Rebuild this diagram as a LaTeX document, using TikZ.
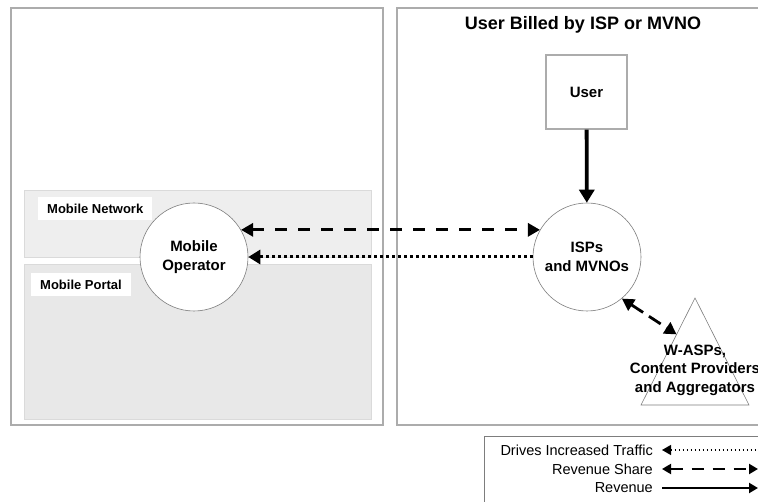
\documentclass[tikz,border=0pt]{standalone}
\usepackage{fontspec}
\setmainfont{Liberation Sans}
\usepackage{tikz}
\usetikzlibrary{arrows.meta,positioning,calc}
\definecolor{framegray}{RGB}{172,172,172}
\definecolor{edgegray}{RGB}{125,125,125}
\definecolor{netgray}{RGB}{238,238,238}
\definecolor{portalgray}{RGB}{232,232,232}
\definecolor{bandedge}{RGB}{218,218,218}

\begin{document}
\begin{tikzpicture}[
    x=1pt, y=-1pt,
    font=\fontsize{15}{18.5}\selectfont\bfseries,
    panel/.style={draw=framegray, line width=1.8pt},
    band/.style={draw=bandedge, line width=0.8pt},
    tag/.style={
        rectangle, fill=white, anchor=north west,
        font=\fontsize{13}{15}\selectfont\bfseries,
        minimum height=23pt, inner xsep=9pt, inner ysep=0pt
    },
    actor/.style={
        circle, draw=edgegray, line width=0.6pt, fill=white,
        minimum size=108pt, inner sep=0pt, align=center
    },
    userbox/.style={
        rectangle, draw=framegray, line width=1.2pt, fill=white,
        minimum width=81pt, minimum height=74pt
    },
    revenue/.style={-{Triangle[length=13pt,width=15pt]}, line width=3.8pt},
    share/.style={{Triangle[length=12pt,width=13pt]}-{Triangle[length=12pt,width=13pt]},
        line width=2.8pt, dash pattern=on 12pt off 11pt},
    traffic/.style={-{Triangle[length=12pt,width=14pt]}, line width=3pt,
        dash pattern=on 3pt off 3pt},
    legtext/.style={anchor=east, inner sep=0pt, font=\fontsize{14.5}{16}\selectfont}
]
\useasboundingbox (0,0) rectangle (758,502);

% two panels and the operator bands
\draw[panel] (11,8) rectangle (383,425);
\draw[panel] (397,8) rectangle (790,425);
\draw[band, fill=netgray]    (24,190) rectangle (371,257);
\draw[band, fill=portalgray] (24,264) rectangle (371,419);
\node[tag] (nettag)    at (38,197) {Mobile Network};
\node[tag] (portaltag) at (31,273) {Mobile Portal};

\node (title) at (583,25) {\fontsize{18}{20}\selectfont User Billed by ISP or MVNO};

\node[userbox] (user) at (586.5,92) {User};
\node[actor] (mobop) at (194,257) {Mobile\\Operator};
\node[actor] (isp)   at (587,257) {ISPs\\and MVNOs};

% providers triangle
\coordinate (apex) at (695,298);
\coordinate (baseL) at (641,405);
\coordinate (baseR) at (749,405);
\draw[edgegray, line width=0.6pt] (apex) -- (baseL) -- (baseR) -- cycle;
\coordinate (wasp) at ($(apex)!0.34!(baseL)$);
\node[align=center] (wasptext) at (695,370) {W-ASPs,\\Content Providers\\and Aggregators};

\draw[revenue] (user) -- (isp);
\draw[share]   (mobop.30) -- (isp.150);
\draw[traffic] (isp.west) -- (mobop.east);
\draw[share, dash pattern=on 14pt off 7pt] (isp.-50) -- (wasp);

% legend
\draw[edgegray, line width=0.6pt] (484,436) rectangle (800,540);
\node[legtext] (legtraffic) at (653,450) {Drives Increased Traffic};
\node[legtext] (legshare)   at (653,469) {Revenue Share};
\node[legtext] (legrev)     at (653,488) {Revenue};
\coordinate (ltA) at (662,450); \coordinate (ltB) at (770,450);
\coordinate (lsA) at (662,469); \coordinate (lsB) at (758,469);
\coordinate (lrA) at (662,488); \coordinate (lrB) at (758,488);
\draw[{Triangle[length=9pt,width=10pt]}-, line width=1.3pt, dash pattern=on 1.5pt off 2.5pt] (ltA) -- (ltB);
\draw[{Triangle[length=9pt,width=10pt]}-{Triangle[length=9pt,width=10pt]}, line width=2pt,
      dash pattern=on 12pt off 9pt] (lsA) -- (lsB);
\draw[-{Triangle[length=9pt,width=10pt]}, line width=2pt] (lrA) -- (lrB);
\end{tikzpicture}
\end{document}
